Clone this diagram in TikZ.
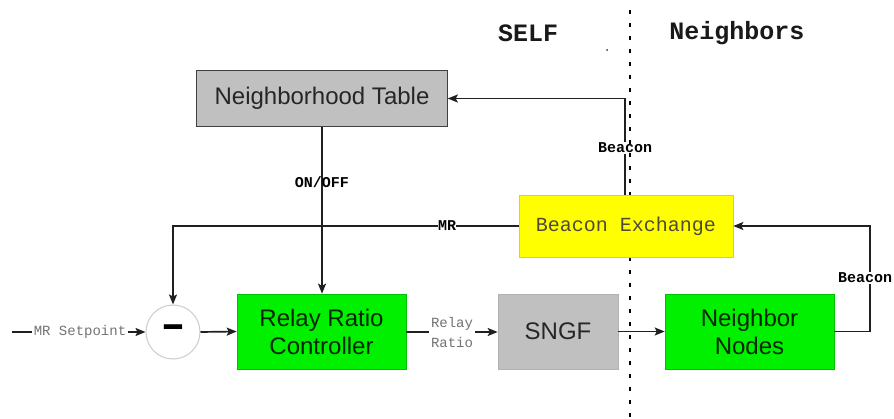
\documentclass[tikz,border=0pt]{standalone}
\usepackage{fontspec}
\setmainfont{Liberation Sans}
\newfontfamily\monofont{Liberation Mono}
\usetikzlibrary{arrows.meta}

\definecolor{boxgreen}{HTML}{00F000}
\definecolor{boxgray}{HTML}{C0C0C0}
\definecolor{boxyellow}{HTML}{FFFF00}
\definecolor{wirecol}{HTML}{202020}

\tikzset{
  blockbase/.style={minimum height=75pt, inner sep=0pt, align=center,
    font=\fontsize{24}{28}\selectfont},
  greenblock/.style={blockbase, fill=boxgreen, draw=boxgreen!80!black, line width=0.6pt, text=black!85!green},
  grayblock/.style={blockbase, fill=boxgray, draw=black!30, line width=0.6pt, text=black!85},
  wire/.style={line width=1.7pt, draw=wirecol},
  arr/.style={wire, -{Stealth[length=10pt,width=8pt,inset=2pt]}},
  boldtag/.style={font=\monofont\bfseries\fontsize{15}{15}\selectfont, inner sep=1pt, text=black},
  graytag/.style={font=\monofont\fontsize{14}{20}\selectfont, inner sep=1.5pt, text=black!55, align=center},
  sidetitle/.style={font=\monofont\bfseries\fontsize{25}{25}\selectfont, text=black!90}
}

\begin{document}
\begin{tikzpicture}[x=1pt,y=-1pt]
\useasboundingbox (0,0) rectangle (894,419);
\fill[white] (0,0) rectangle (894,419);

% side titles and divider
\node[sidetitle] (self) at (528,33) {SELF};
\node[sidetitle] (nbrs) at (737,33) {Neighbors};
\draw[line width=1.5pt, dash pattern=on 4pt off 9pt] (630,10) -- (630,419);
\fill[black!80] (607,50) circle (1pt);

% blocks
\node[grayblock, minimum width=251pt, minimum height=56pt, draw=black!75] (nt) at (322,98.5) {Neighborhood Table};
\node[greenblock, minimum width=169pt] (rrc) at (321.5,331.5) {Relay Ratio\\Controller};
\node[grayblock, minimum width=120pt] (sngf) at (558,331.5) {SNGF};
\node[greenblock, minimum width=169pt] (nn) at (749.5,331.5) {Neighbor\\Nodes};
\node[minimum width=214pt, minimum height=62pt, inner sep=0pt, fill=boxyellow, draw=yellow!85!black, line width=0.6pt,
      font=\monofont\fontsize{20}{20}\selectfont, text=black!80!yellow] (bx) at (626,226) {Beacon Exchange};

% summing junction
\node[circle, draw=black!20, line width=1pt, minimum size=54pt, inner sep=0pt,
      font=\bfseries\fontsize{40}{40}\selectfont] (sum) at (173,332) {\raisebox{2pt}{\scalebox{1.8}[1]{-}}};

% setpoint input
\coordinate (start) at (12,332);
\node[graytag] (sp) at (80,332) {MR Setpoint};
\draw[wire] (start) -- (sp.west);
\draw[arr] (sp.east) -- (sum.west);
\draw[arr] (sum.east) -- (rrc.west);

% controller to SNGF
\node[graytag] (rr) at (452,332) {Relay\\Ratio};
\draw[wire] (rrc.east |- rr.west) -- (rr.west);
\draw[arr] (rr.east) -- (sngf.west |- rr.east);
\draw[arr] (sngf.east) -- (nn.west);

% neighbor nodes back to beacon exchange (return wire runs at x = 870)
\coordinate (rail) at (870,278);
\node[boldtag] (bcn2) at (865,278) {Beacon};
\draw[wire] (nn.east) -| (rail |- bcn2.south);
\draw[arr] (rail |- bcn2.north) |- (bx.east);

% beacon exchange to neighborhood table
\node[boldtag] (bcn1) at (625,148) {Beacon};
\draw[wire] (bx.north -| bcn1.south) -- (bcn1.south);
\draw[arr] (bcn1.north) |- (nt.east);

% on/off control
\draw[arr] (nt.south) -- (nt.south |- rrc.north);
\node[boldtag] (onoff) at (322,182) {ON/OFF};

% measured ratio feedback
\node[boldtag, fill=white, inner sep=0pt] (mr) at (447,226) {MR};
\draw[wire] (bx.west) -- (mr.east);
\draw[arr] (mr.west) -| (sum.north);
\end{tikzpicture}
\end{document}
